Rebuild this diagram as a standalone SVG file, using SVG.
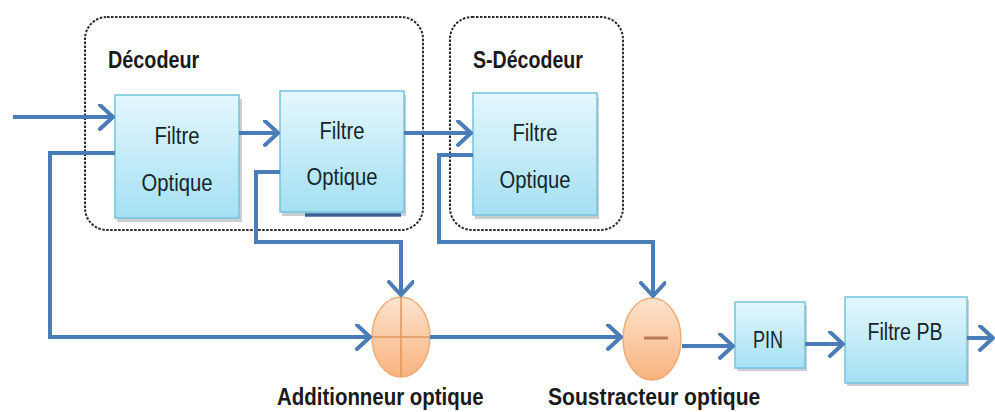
<svg xmlns="http://www.w3.org/2000/svg" width="995" height="412" viewBox="0 0 995 412">
<defs>
<linearGradient id="boxg" x1="0" y1="0" x2="0" y2="1">
<stop offset="0" stop-color="#e4f7fd"/>
<stop offset="1" stop-color="#a4e0f3"/>
</linearGradient>
<linearGradient id="elg" x1="0" y1="0" x2="0" y2="1">
<stop offset="0" stop-color="#fde4ce"/>
<stop offset="1" stop-color="#f9b37e"/>
</linearGradient>
<marker id="arr" markerUnits="userSpaceOnUse" markerWidth="20" markerHeight="30" refX="15" refY="13" orient="auto" viewBox="0 0 20 30">
<path d="M2,1 L15,13 L2,25" fill="none" stroke="#4a7cb8" stroke-width="4" stroke-linejoin="round" stroke-linecap="round"/>
</marker>
<style>
.box{fill:url(#boxg);stroke:#74c3de;stroke-width:1.5}
.sh{fill:#9aa7ad;opacity:0.55}
.grp{fill:none;stroke:#2a2a2a;stroke-width:2;stroke-dasharray:2.5 1.5}
.ln{fill:none;stroke:#4a7cb8;stroke-width:4;stroke-linejoin:miter}
.ar{marker-end:url(#arr)}
.el{fill:url(#elg);stroke:#f0ad78;stroke-width:1.5}
.t{font-family:"Liberation Sans",Arial,sans-serif;font-size:22px;fill:#16252c;text-anchor:middle}
.b{font-family:"Liberation Sans",Arial,sans-serif;font-size:22px;font-weight:bold;fill:#1a1a1a}
</style>
</defs>

<g id="decodeur">
<rect class="grp" x="85" y="17" width="338" height="213" rx="22"/>
<text class="b" transform="translate(108,68) scale(0.9,1.1)">Décodeur</text>
</g>
<g id="s-decodeur">
<rect class="grp" x="450" y="17" width="173" height="213" rx="22"/>
<text class="b" transform="translate(473,68) scale(0.89,1.1)">S-Décodeur</text>
</g>

<g id="filtre1">
<rect class="sh" x="117" y="99" width="125" height="123"/>
<rect class="box" x="115" y="95" width="124" height="123"/>
<text class="t" transform="translate(177,144) scale(0.92,1.1)">Filtre</text>
<text class="t" transform="translate(177,191) scale(0.92,1.1)">Optique</text>
</g>
<g id="filtre2">
<rect class="sh" x="282" y="95" width="124" height="121"/>
<line x1="305" y1="215" x2="401" y2="215" stroke="#3a5f95" stroke-width="3.5"/>
<rect class="box" x="280" y="91" width="124" height="121"/>
<text class="t" transform="translate(342,139) scale(0.92,1.1)">Filtre</text>
<text class="t" transform="translate(342,185) scale(0.92,1.1)">Optique</text>
</g>
<g id="filtre3">
<rect class="sh" x="475" y="97" width="124" height="122"/>
<rect class="box" x="473" y="93" width="124" height="122"/>
<text class="t" transform="translate(535,141) scale(0.92,1.1)">Filtre</text>
<text class="t" transform="translate(535,188) scale(0.92,1.1)">Optique</text>
</g>

<g id="additionneur">
<ellipse class="el" cx="401" cy="337" rx="29" ry="40"/>
<line x1="401" y1="297" x2="401" y2="377" stroke="#e0965a" stroke-width="1.5"/>
<line x1="372" y1="337" x2="430" y2="337" stroke="#e0965a" stroke-width="1.5"/>
<text class="b" transform="translate(277,405) scale(0.93,1.12)">Additionneur optique</text>
</g>
<g id="soustracteur">
<ellipse class="el" cx="652" cy="339" rx="29" ry="41"/>
<line x1="644" y1="338" x2="668" y2="338" stroke="#b87a5a" stroke-width="3"/>
<text class="b" transform="translate(548,405) scale(0.96,1.12)">Soustracteur optique</text>
</g>

<g id="pin">
<rect class="sh" x="737" y="305" width="70" height="66"/>
<rect class="box" x="735" y="302" width="70" height="66"/>
<text class="t" transform="translate(768,348) scale(0.82,1.1)">PIN</text>
</g>
<g id="filtre-pb">
<rect class="sh" x="847" y="300" width="122" height="86"/>
<rect class="box" x="845" y="297" width="122" height="86"/>
<text class="t" transform="translate(905,340) scale(0.89,1.1)">Filtre PB</text>
</g>

<g id="connectors">
<path class="ln ar" d="M13,117 H113"/>
<path class="ln ar" d="M239,133 H278"/>
<path class="ln ar" d="M404,133 H471"/>
<path class="ln ar" d="M115,153 H50 V337 H370"/>
<path class="ln ar" d="M280,172 H256 V242 H401 V295"/>
<path class="ln ar" d="M473,155 H439 V242 H653 V296"/>
<path class="ln ar" d="M430,337 H621"/>
<path class="ln ar" d="M682,346 H733"/>
<path class="ln ar" d="M805,344 H843"/>
<path class="ln ar" d="M967,338 H993"/>
</g>
</svg>
